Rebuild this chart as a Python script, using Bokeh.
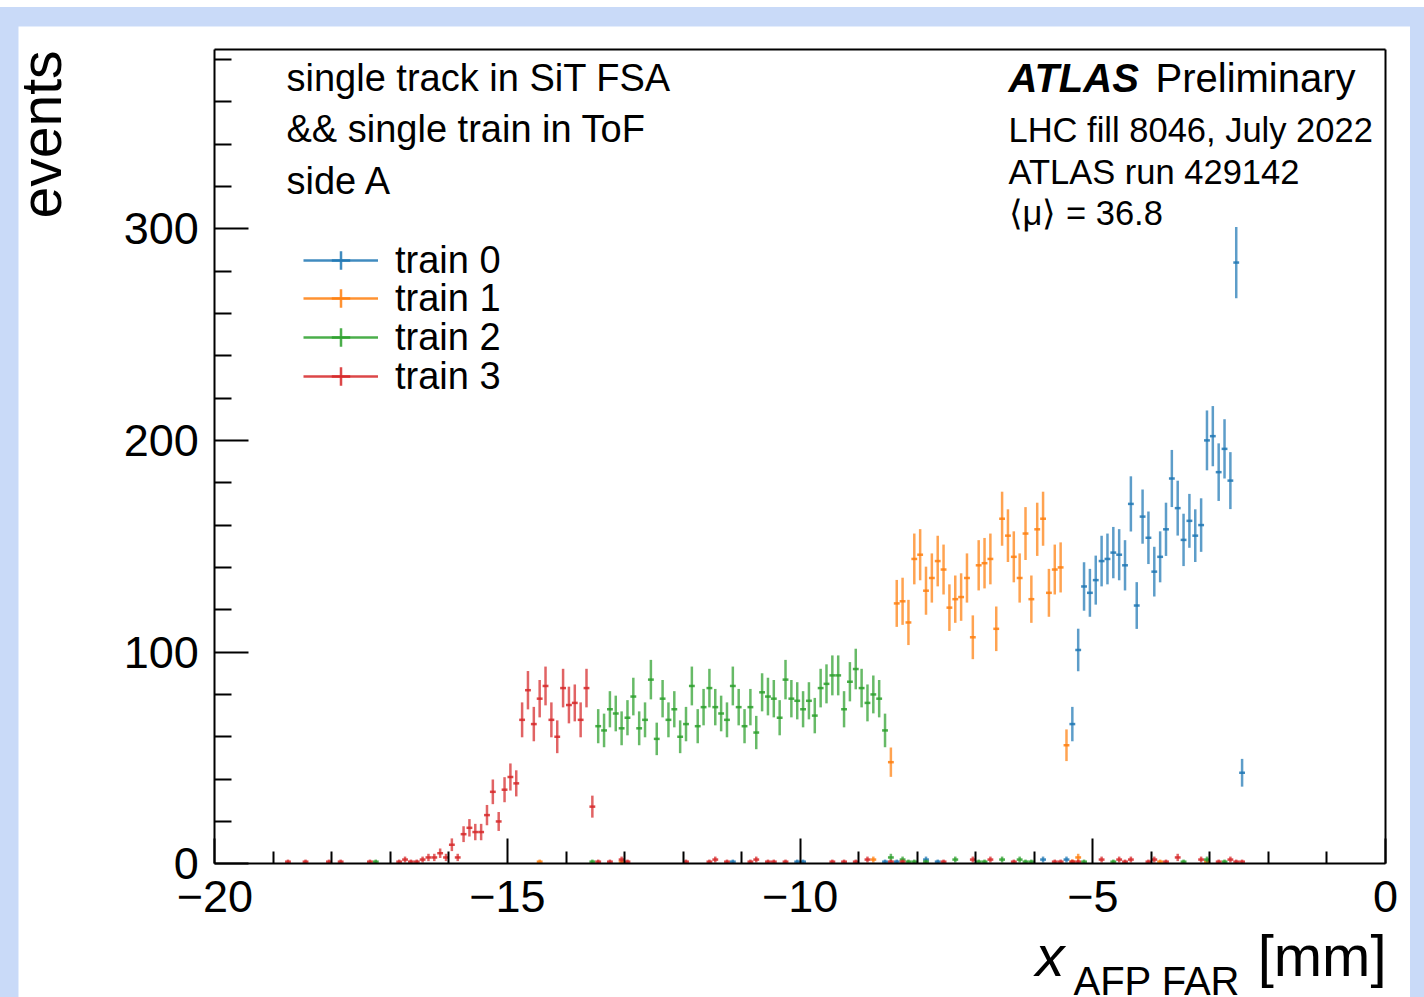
import numpy as np
from bokeh.plotting import figure
from bokeh.models import (Range1d, FixedTicker, Label, Legend, LegendItem,
                          ColumnDataSource, LinearAxis)
from bokeh.layouts import column
from bokeh.embed import file_html
from bokeh.resources import INLINE

# ---------------- data ----------------
BIN_HALF = 0.05
X_MIN, X_MAX = -20, 0
Y_MIN, Y_MAX = 0, 384.5
x_ticks = [-20, -15, -10, -5, 0]
x_tick_labels = ["\u221220", "\u221215", "\u221210", "\u22125", "0"]
x_minor = [v for v in range(-20, 1) if v not in x_ticks]
y_ticks = [0, 100, 200, 300]
y_tick_labels = ["0", "100", "200", "300"]
y_minor = [v for v in range(0, 385, 20) if v not in y_ticks]

# train 0 (blue)
train0_x = [-11.15, -10.05, -9.95, -8.55, -8.35, -7.85, -7.65, -5.85, -5.45,
            -5.35, -5.25, -5.15, -5.05, -4.95, -4.85, -4.75, -4.65, -4.55, -4.45,
            -4.35, -4.25, -4.15, -4.05, -3.95, -3.85, -3.75, -3.65, -3.55, -3.45,
            -3.35, -3.25, -3.15, -3.05, -2.95, -2.85, -2.75, -2.65, -2.55, -2.45]
train0_n = [1, 1, 1, 1, 1, 2, 1, 2, 2,
            66, 101, 131, 128, 134, 143, 144, 147, 146, 141,
            170, 122, 164, 154, 138, 145, 158, 182, 168, 153,
            162, 155, 160, 200, 202, 185, 196, 181, 284, 43]

# train 1 (orange)
train1_x = [-14.45, -13.05, -8.75, -8.45, -8.35, -8.25, -8.15, -8.05, -7.95,
            -7.85, -7.75, -7.65, -7.55, -7.45, -7.35, -7.25, -7.15, -7.05, -6.95,
            -6.85, -6.75, -6.65, -6.55, -6.45, -6.35, -6.25, -6.15, -6.05, -5.95,
            -5.85, -5.75, -5.65, -5.55, -5.45, -5.35, -5.25, -3.85, -3.05]
train1_n = [1, 1, 2, 48, 123, 124, 114, 144, 146,
            129, 135, 143, 139, 121, 125, 126, 135, 107, 141,
            142, 144, 111, 163, 155, 145, 135, 156, 125, 158,
            163, 128, 139, 140, 56, 1, 3, 1, 1]

# train 2 (green)
train2_x = [-17.25, -13.55, -13.45, -13.35, -13.25, -13.15, -13.05, -12.95, -12.85,
            -12.75, -12.65, -12.55, -12.45, -12.35, -12.25, -12.15, -12.05, -11.95,
            -11.85, -11.75, -11.65, -11.55, -11.45, -11.35, -11.25, -11.15, -11.05,
            -10.95, -10.85, -10.75, -10.65, -10.55, -10.45, -10.35, -10.25, -10.15,
            -10.05, -9.95, -9.85, -9.75, -9.65, -9.55, -9.45, -9.35, -9.25, -9.15,
            -9.05, -8.95, -8.85, -8.75, -8.65, -8.55, -8.45, -8.25, -8.15, -8.05,
            -7.85, -7.35, -6.95, -6.85, -6.55, -6.25, -6.15, -6.05, -5.15, -4.65,
            -3.45, -3.05, -2.75]
train2_n = [1, 1, 65, 63, 73, 71, 64, 69, 79,
            64, 68, 87, 59, 78, 68, 73, 60, 66,
            84, 65, 74, 83, 74, 71, 68, 84, 74,
            65, 74, 62, 81, 79, 78, 69, 87, 78,
            77, 73, 77, 70, 83, 85, 89, 89, 73, 86,
            92, 83, 76, 80, 78, 63, 3, 2, 1, 1,
            1, 2, 1, 1, 2, 2, 1, 1, 1, 1,
            1, 2, 1]

# train 3 (red)
train3_x = [-18.75, -18.45, -18.05, -17.85, -17.35, -16.85, -16.75, -16.65, -16.55,
            -16.45, -16.35, -16.25, -16.15, -16.05, -15.95, -15.85, -15.75, -15.65,
            -15.55, -15.45, -15.35, -15.25, -15.15, -15.05, -14.95, -14.85, -14.75,
            -14.65, -14.55, -14.45, -14.35, -14.25, -14.15, -14.05, -13.95, -13.85,
            -13.75, -13.65, -13.55, -13.45, -13.25, -13.05, -12.95, -11.95, -11.55,
            -11.45, -11.25, -10.85, -10.75, -10.55, -10.45, -10.25, -9.45, -9.25,
            -9.05, -8.85, -8.45, -8.25, -7.55, -7.05, -6.75, -6.35, -5.65, -5.55,
            -5.35, -5.25, -4.85, -4.55, -4.45, -4.35, -4.05, -3.95, -3.75, -3.55,
            -3.15, -2.85, -2.65, -2.55, -2.45]
train3_n = [1, 1, 1, 1, 1, 1, 2, 1, 1,
            2, 3, 3, 5, 3, 9, 3, 14, 17,
            15, 15, 23, 34, 20, 35, 41, 38, 68,
            82, 66, 78, 84, 68, 60, 83, 75, 76,
            68, 83, 27, 1, 1, 2, 1, 1, 1,
            2, 1, 1, 2, 1, 1, 1, 1, 1,
            1, 2, 1, 1, 1, 2, 2, 1, 1, 1,
            1, 1, 2, 2, 1, 2, 1, 2, 1, 3,
            2, 1, 2, 1, 1]

series_names = ["train 0", "train 1", "train 2", "train 3"]
series_x = [train0_x, train1_x, train2_x, train3_x]
series_n = [train0_n, train1_n, train2_n, train3_n]
series_colors = ["#1f77b4", "#ff7f0e", "#2ca02c", "#d62728"]

FONT = "Liberation Sans"

# ---------------- geometry (page pixels) ----------------
CANVAS_L, CANVAS_T, CANVAS_W, CANVAS_H = 18, 26, 1392, 971
BOX_L, BOX_R, BOX_T, BOX_B = 214.3, 1385.0, 49.3, 863.3
SX = (BOX_R - BOX_L) / (X_MAX - X_MIN)
SY = (BOX_B - BOX_T) / (Y_MAX - Y_MIN)
xr = Range1d(X_MIN - (BOX_L - CANVAS_L) / SX,
             X_MAX + (CANVAS_L + CANVAS_W - BOX_R) / SX)
yr = Range1d(Y_MIN - (CANVAS_T + CANVAS_H - BOX_B) / SY,
             Y_MAX + (BOX_T - CANVAS_T) / SY)

p = figure(width=CANVAS_W, height=CANVAS_H, x_range=xr, y_range=yr,
           output_backend="svg", toolbar_location=None,
           min_border_left=0, min_border_right=0, min_border_top=0,
           min_border_bottom=0)
p.background_fill_color = "white"
p.border_fill_color = "white"
p.outline_line_color = None
p.xgrid.visible = False
p.ygrid.visible = False

xa = p.xaxis[0]
ya = p.yaxis[0]
xa.fixed_location = Y_MIN
xa.bounds = (X_MIN, X_MAX)
ya.fixed_location = X_MIN
ya.bounds = (Y_MIN, Y_MAX)

for ax in (xa, ya):
    ax.axis_line_width = 2
    ax.axis_line_color = "black"
    ax.major_tick_line_width = 2
    ax.minor_tick_line_width = 2
    ax.major_tick_out = 0
    ax.minor_tick_out = 0
    ax.major_label_text_font = FONT
    ax.major_label_text_font_size = "45px"
    ax.major_label_text_color = "black"

xa.ticker = FixedTicker(ticks=x_ticks, minor_ticks=x_minor)
xa.major_label_overrides = {t: l for t, l in zip(x_ticks, x_tick_labels)}
xa.major_tick_in = 25
xa.minor_tick_in = 12
xa.major_label_standoff = 17

ya.ticker = FixedTicker(ticks=y_ticks, minor_ticks=y_minor)
ya.major_label_overrides = {t: l for t, l in zip(y_ticks, y_tick_labels)}
ya.major_tick_in = 34
ya.minor_tick_in = 17
ya.major_label_standoff = 16

# top and right edges of the box
top_ax = LinearAxis(fixed_location=Y_MAX, bounds=(X_MIN, X_MAX),
                    ticker=FixedTicker(ticks=[]), axis_line_width=2,
                    major_tick_line_color=None, minor_tick_line_color=None,
                    major_label_text_font_size="0px")
right_ax = LinearAxis(fixed_location=X_MAX, bounds=(Y_MIN, Y_MAX),
                      ticker=FixedTicker(ticks=[]), axis_line_width=2,
                      major_tick_line_color=None, minor_tick_line_color=None,
                      major_label_text_font_size="0px")
p.add_layout(top_ax, "above")
p.add_layout(right_ax, "right")

legend_renderers = []
for name, xs, ns, col in zip(series_names, series_x, series_n, series_colors):
    xs = np.array(xs, dtype=float)
    ns = np.array(ns, dtype=float)
    err = np.sqrt(ns)
    src = ColumnDataSource(dict(x=xs, y=ns, lo=ns - err, hi=ns + err,
                                xl=xs - BIN_HALF, xr=xs + BIN_HALF))
    p.segment(x0="x", y0="lo", x1="x", y1="hi", source=src,
              line_color=col, line_width=2.5, line_alpha=0.72)
    hr = p.segment(x0="xl", y0="y", x1="xr", y1="y", source=src,
                   line_color=col, line_width=2.5, line_alpha=0.85)
    mk = p.scatter(x="x", y="y", source=src, marker="cross", size=0,
                   line_color=col, line_width=2.5, line_alpha=0.85)
    legend_renderers.append((name, [hr, mk]))

# legends (one per entry, ROOT-like)
row_centers_px = [260, 298.5, 337, 375.5]
ROW_H = 46
for (name, rends), c in zip(legend_renderers, row_centers_px):
    lg = Legend(items=[LegendItem(label=name, renderers=rends)],
                location=(int(round(303 - CANVAS_L)),
                          int(round(CANVAS_T + CANVAS_H - (c + ROW_H / 2)))),
                orientation="vertical", padding=0, margin=0, spacing=0,
                glyph_width=75, glyph_height=ROW_H, label_standoff=17,
                label_text_font=FONT, label_text_font_size="38px",
                label_text_color="black", border_line_alpha=0,
                background_fill_alpha=0)
    p.add_layout(lg)

# ---------------- texts ----------------
def px2x(px):
    return (px - BOX_L) / SX + X_MIN


def py2y(py):
    return (BOX_B - py) / SY + Y_MIN


def add_label(text, px, py, size, style="normal", align="left", angle=0.0):
    p.add_layout(Label(x=px2x(px), y=py2y(py), text=text, text_font=FONT,
                       text_font_size=size, text_font_style=style,
                       text_align=align, text_baseline="alphabetic",
                       text_color="black", angle=angle))


add_label("single track in SiT FSA", 286, 77, "38px")
add_label("&& single train in ToF", 286, 128, "38px")
add_label("side A", 286, 180, "38px")

add_label("ATLAS", 1008, 77, "40px", style="bold italic")
add_label("Preliminary", 1155, 77, "40px")
add_label("LHC fill 8046, July 2022", 1008, 129, "34.5px")
add_label("ATLAS run 429142", 1008, 171, "34.5px")
add_label("\u27e8\u03bc\u27e9 = 36.8", 1008, 212, "34.5px")

# axis titles
add_label("events", 40, 50, "57px", align="right", angle=np.pi / 2)
add_label("x", 1035, 955, "58px", style="italic")
add_label("AFP FAR", 1073, 980, "40px")
add_label("[mm]", 1386, 955, "58px", align="right")

layout = column(p, styles={"background-color": "#c9daf8",
                           "padding": "19px 14px 0px 18px",
                           "margin-top": "7px"})

open("out.html", "w").write(file_html(layout, INLINE))
